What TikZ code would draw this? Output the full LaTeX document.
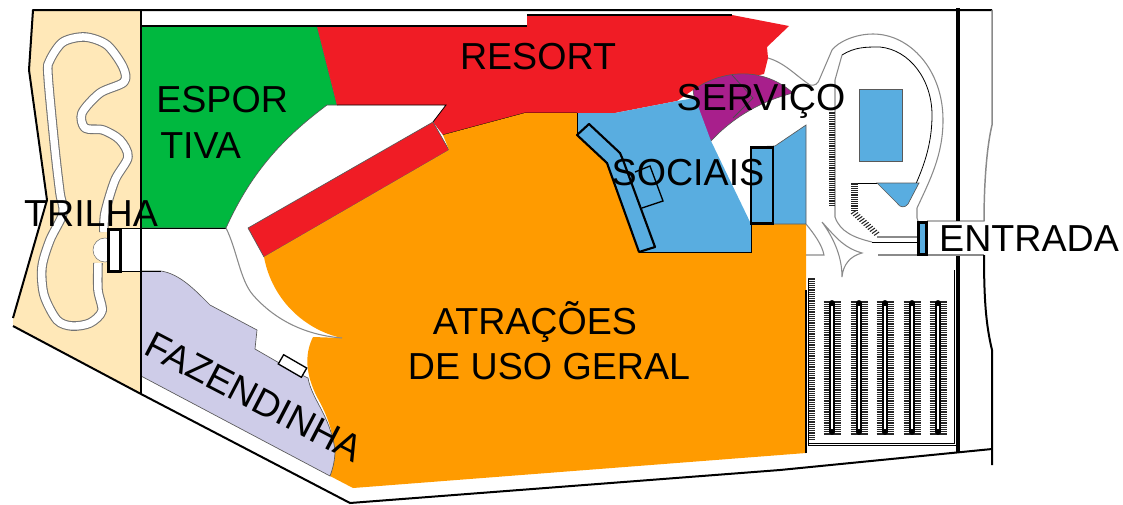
\documentclass[tikz,border=0pt]{standalone}
\usepackage{fontspec}
\setmainfont{Liberation Sans}
\definecolor{beige}{HTML}{FFE8B8}
\definecolor{verde}{HTML}{00B83F}
\definecolor{verm}{HTML}{F01C25}
\definecolor{laran}{HTML}{FF9B00}
\definecolor{azul}{HTML}{59ADE0}
\definecolor{roxo}{HTML}{A81F8C}
\definecolor{lila}{HTML}{CECCE8}
\definecolor{cinza}{HTML}{8A8A8A}
\tikzset{
  lbl/.style={font=\fontsize{28.2pt}{30pt}\selectfont,text=black,inner sep=0pt,anchor=center},
  edge/.style={draw=black!65,line width=0.5pt},
  thin/.style={draw=black,line width=0.6pt},
  road/.style={draw=cinza,line width=0.8pt},
  heavy/.style={draw=black,line width=1.6pt},
  box/.style={draw=black,line width=2.2pt},
  wall/.style={draw=black,line width=1.5pt},
  trailo/.style={draw=black!55,line width=7.2pt,line join=round},
  traili/.style={draw=white,line width=5.6pt,line join=round},
  hatch/.style={draw=black!85,line width=0.9pt},
}
\newcommand{\parkcol}[1]{%
  \foreach \yy in {302,304.2,...,434}{\draw[hatch] (#1-8.5,\yy) -- (#1+8.5,\yy);}
  \draw[draw=black,line width=4.4pt,line cap=round] (#1,303) -- (#1,432);
  \draw[draw=white,line width=1pt] (#1,306) -- (#1,429);
}
\def\trailpts{(104,232) (105,213) (115,180) (128,157) (120,140) (103,130) (85,128) (82,113) (100,93) (124,82) (123,67) (107,45) (85,37) (63,42) (50,60) (48,75) (55,150) (60,193) (63,213) (50,240) (42,267) (44,295) (57,320) (72,326) (90,323) (102,311) (98,290) (98,263)}
\begin{document}
\begin{tikzpicture}[x=0.75pt,y=-0.75pt]
\useasboundingbox (0,0) rectangle (1123,504);
% beige
\fill[beige] (33,10) -- (141,10) -- (141,394) -- (13,326) -- (13,318) -- (47,200) -- (29,70) -- cycle;
% green
\path[fill=verde,edge] (141,26) -- (317,26) -- (337,105) -- (327,105) .. controls (280,140) and (250,175) .. (226,228) -- (141,228) -- cycle;
% resort red
\path[fill=verm] (317,26) -- (527,26) -- (527,15) -- (732,15) -- (789,26) -- (767,47) -- (768,58) -- (764,74) -- (693,90) -- (677,101) -- (615,113) -- (525,113) -- (443,135) -- (433,122) -- (446,105) -- (337,105) -- cycle;
\draw[thin] (337,105) -- (446,105) -- (433,122);
\draw[thin] (443,135) -- (525,113) -- (577,113);
\draw[thin,line width=0.9pt] (527,15) -- (732,15);
% strip red
\path[fill=verm,edge] (248,228) -- (433,122) -- (449,150) -- (264,257) -- cycle;
% orange
\path[fill=laran] (264,257) -- (449,150) -- (443,135) -- (525,113) -- (577,113) -- (577,135) -- (607,163) -- (639,252) -- (751,252) -- (751,224) -- (806,224) -- (806,453) -- (353,488) -- (330,476)
  .. controls (338,450) and (333,425) .. (317,397)
  .. controls (306,375) and (304,355) .. (313,337) -- (342,338)
  .. controls (305,330) and (272,300) .. (264,257) -- cycle;
% lilac
\path[fill=lila,edge] (141,271) -- (161,271) .. controls (180,274) and (195,290) .. (210,305) -- (257,330) -- (255,349) -- (281,364) -- (302,375) -- (308,378) .. controls (312,400) and (330,415) .. (335,450) .. controls (335,460) and (333,468) .. (330,476) -- (141,376) -- cycle;
\node[draw=black,line width=1pt,fill=white,minimum width=20pt,minimum height=8pt,inner sep=0pt,rotate=-30] (barn) at (292.5,366) {};
% purple
\path[fill=roxo,edge] (693,90) .. controls (725,68) and (765,68) .. (793,93) .. controls (765,100) and (735,115) .. (711,141) -- (697,115) -- cycle;
\draw[thin,draw=black!70] (732,75) -- (753,98) -- (733,118);
% blue main
\path[fill=azul] (577,113) -- (615,113) -- (677,101) -- (695,98) -- (711,141) -- (751,224) -- (751,252) -- (639,252) -- (607,163) -- (577,135) -- cycle;
\draw[thin] (751,224) -- (751,252) -- (639,252);
\draw[thin] (577,113) -- (577,135);
\path[fill=azul,edge] (751,147) -- (775,146) -- (806,125) -- (806,224) -- (751,224) -- cycle;
% building outline
\draw[heavy,line join=round] (577,135) -- (589,124) -- (620,153) -- (623,160) -- (655,247) -- (639,252) -- (607,163) -- cycle;
\draw[thin,line width=1pt] (635,172) -- (650,166) -- (663,201) -- (642,208);
% boxes
\node[box,fill=azul,minimum width=16.5pt,minimum height=57pt,inner sep=0pt] (boxsoc) at (762,185.5) {};
% top & outline
\draw[wall] (141,26) -- (527,26);
\draw[wall,line join=round] (13,318) -- (47,200) -- (29,70) -- (33,10) -- (992,10);
\draw[road,line width=1.1pt] (992,10) -- (992,125) .. controls (986,150) and (984,190) .. (984,221) -- (927,221);
\draw[road,line width=1.1pt] (984,255) -- (878,255);
\draw[wall] (984,255) .. controls (984,300) and (986,325) .. (992,350) -- (992,465);
\draw[wall] (13,326) -- (141,394) -- (350,503) -- (780,470) -- (992,449);
\draw[thin,line width=1pt] (141,10) -- (141,394);
\draw[thin] (141,228) -- (226,228) (141,271) -- (161,271);
\draw[line width=2.5pt] (958,8) -- (958,221) (958,256) -- (958,453);
% white lens edges
\draw[road] (226,228) .. controls (237,250) and (240,280) .. (253,295) .. controls (275,320) and (305,335) .. (342,338);
% trail
\draw[trailo] plot[smooth] coordinates {\trailpts};
\draw[traili] plot[smooth] coordinates {\trailpts};
\path[fill=white,draw=black!55] (105,250) circle (12);
\fill[white] (108,229) rectangle (141,271);
\draw[thin] (108,228) -- (141,228) (108,271) -- (141,271);
\draw[thin,line width=1pt] (141,228) -- (141,271);
\node[box,fill=white,minimum width=9pt,minimum height=31pt,inner sep=0pt] (boxtri) at (114.5,250.5) {};
% road system
\draw[road] (768,58) .. controls (785,63) and (795,75) .. (810,85) .. controls (815,86) and (818,84) .. (820,78) -- (832,50) .. controls (838,42) and (855,34) .. (873,34) .. controls (910,34) and (943,70) .. (943,120) .. controls (943,155) and (930,180) .. (917,208) -- (917,218) -- (918,221);
\draw[thin] (842,55) .. controls (855,47) and (865,47) .. (880,47) .. controls (910,50) and (932,80) .. (932,115) .. controls (932,150) and (920,175) .. (910,197);
\draw[road] (842,55) -- (835,80) -- (835,217) .. controls (840,232) and (855,238) .. (872,242);
\draw[thin] (872,242) -- (918,242);
\draw[road,line width=1.2pt] (877,237) -- (918,237);
\draw[road] (806,224) .. controls (815,235) and (822,245) .. (824,255) -- (806,255);
\draw[road] (822,222) .. controls (838,240) and (845,248) .. (862,253) .. controls (850,256) and (843,265) .. (842,277) .. controls (842,258) and (835,240) .. (822,222);
% blue pieces on right
\path[fill=azul,edge] (859,89) rectangle (902,161);
\draw[thin] (851,183) -- (919,183);
\path[fill=azul,edge] (877,183) -- (919,183) -- (908,204) .. controls (905,208) and (900,208) .. (897,203) -- cycle;
\node[box,fill=azul,line width=1.8pt,minimum width=6pt,minimum height=24pt,inner sep=0pt] (boxent) at (922.5,238.5) {};
% hatching
\foreach \yy in {113,115.2,...,206}{\draw[hatch,line width=0.8pt] (829,\yy) -- (835,\yy);}
\foreach \yy in {184,186.2,...,212}{\draw[hatch,line width=0.8pt] (851,\yy) -- (858,\yy);}
\foreach \t in {0,1,...,11}{\draw[hatch,line width=0.8pt] ({851+\t*2.1},{214+\t*1.95}) -- ({856+\t*2.1},{210.5+\t*1.95});}
% parking
\parkcol{832}\parkcol{859}\parkcol{885}\parkcol{912}\parkcol{938}
\foreach \yy in {279,281.2,...,441}{\draw[hatch] (808,\yy) -- (815,\yy);}
\draw[line width=1.6pt] (806,290) -- (806,453);
\draw[line width=0.6pt] (808,279) -- (808,445) -- (956,445) -- (956,270);
\draw[line width=0.5pt] (808,443) -- (954,443) -- (954,270);
% labels
\node[lbl] (res) at (538,57) {RESORT};
\node[lbl,anchor=north west] (esp) at (156,86) {ESPOR};
\node[lbl,anchor=north west] (esp2) at (160,132) {TIVA};
\node[lbl] (tri) at (91,214) {TRILHA};
\node[lbl] (serv) at (761,101) {SERVIÇO};
\node[lbl] (soc) at (688,173) {SOCIAIS};
\node[lbl] (ent) at (1029,239) {ENTRADA};
\node[lbl] (atr) at (535,322) {ATRAÇÕES};
\node[lbl] (uso) at (549,367) {DE USO GERAL};
\node[lbl,rotate=-27.5] (faz) at (254,397) {FAZENDINHA};
\end{tikzpicture}
\end{document}
